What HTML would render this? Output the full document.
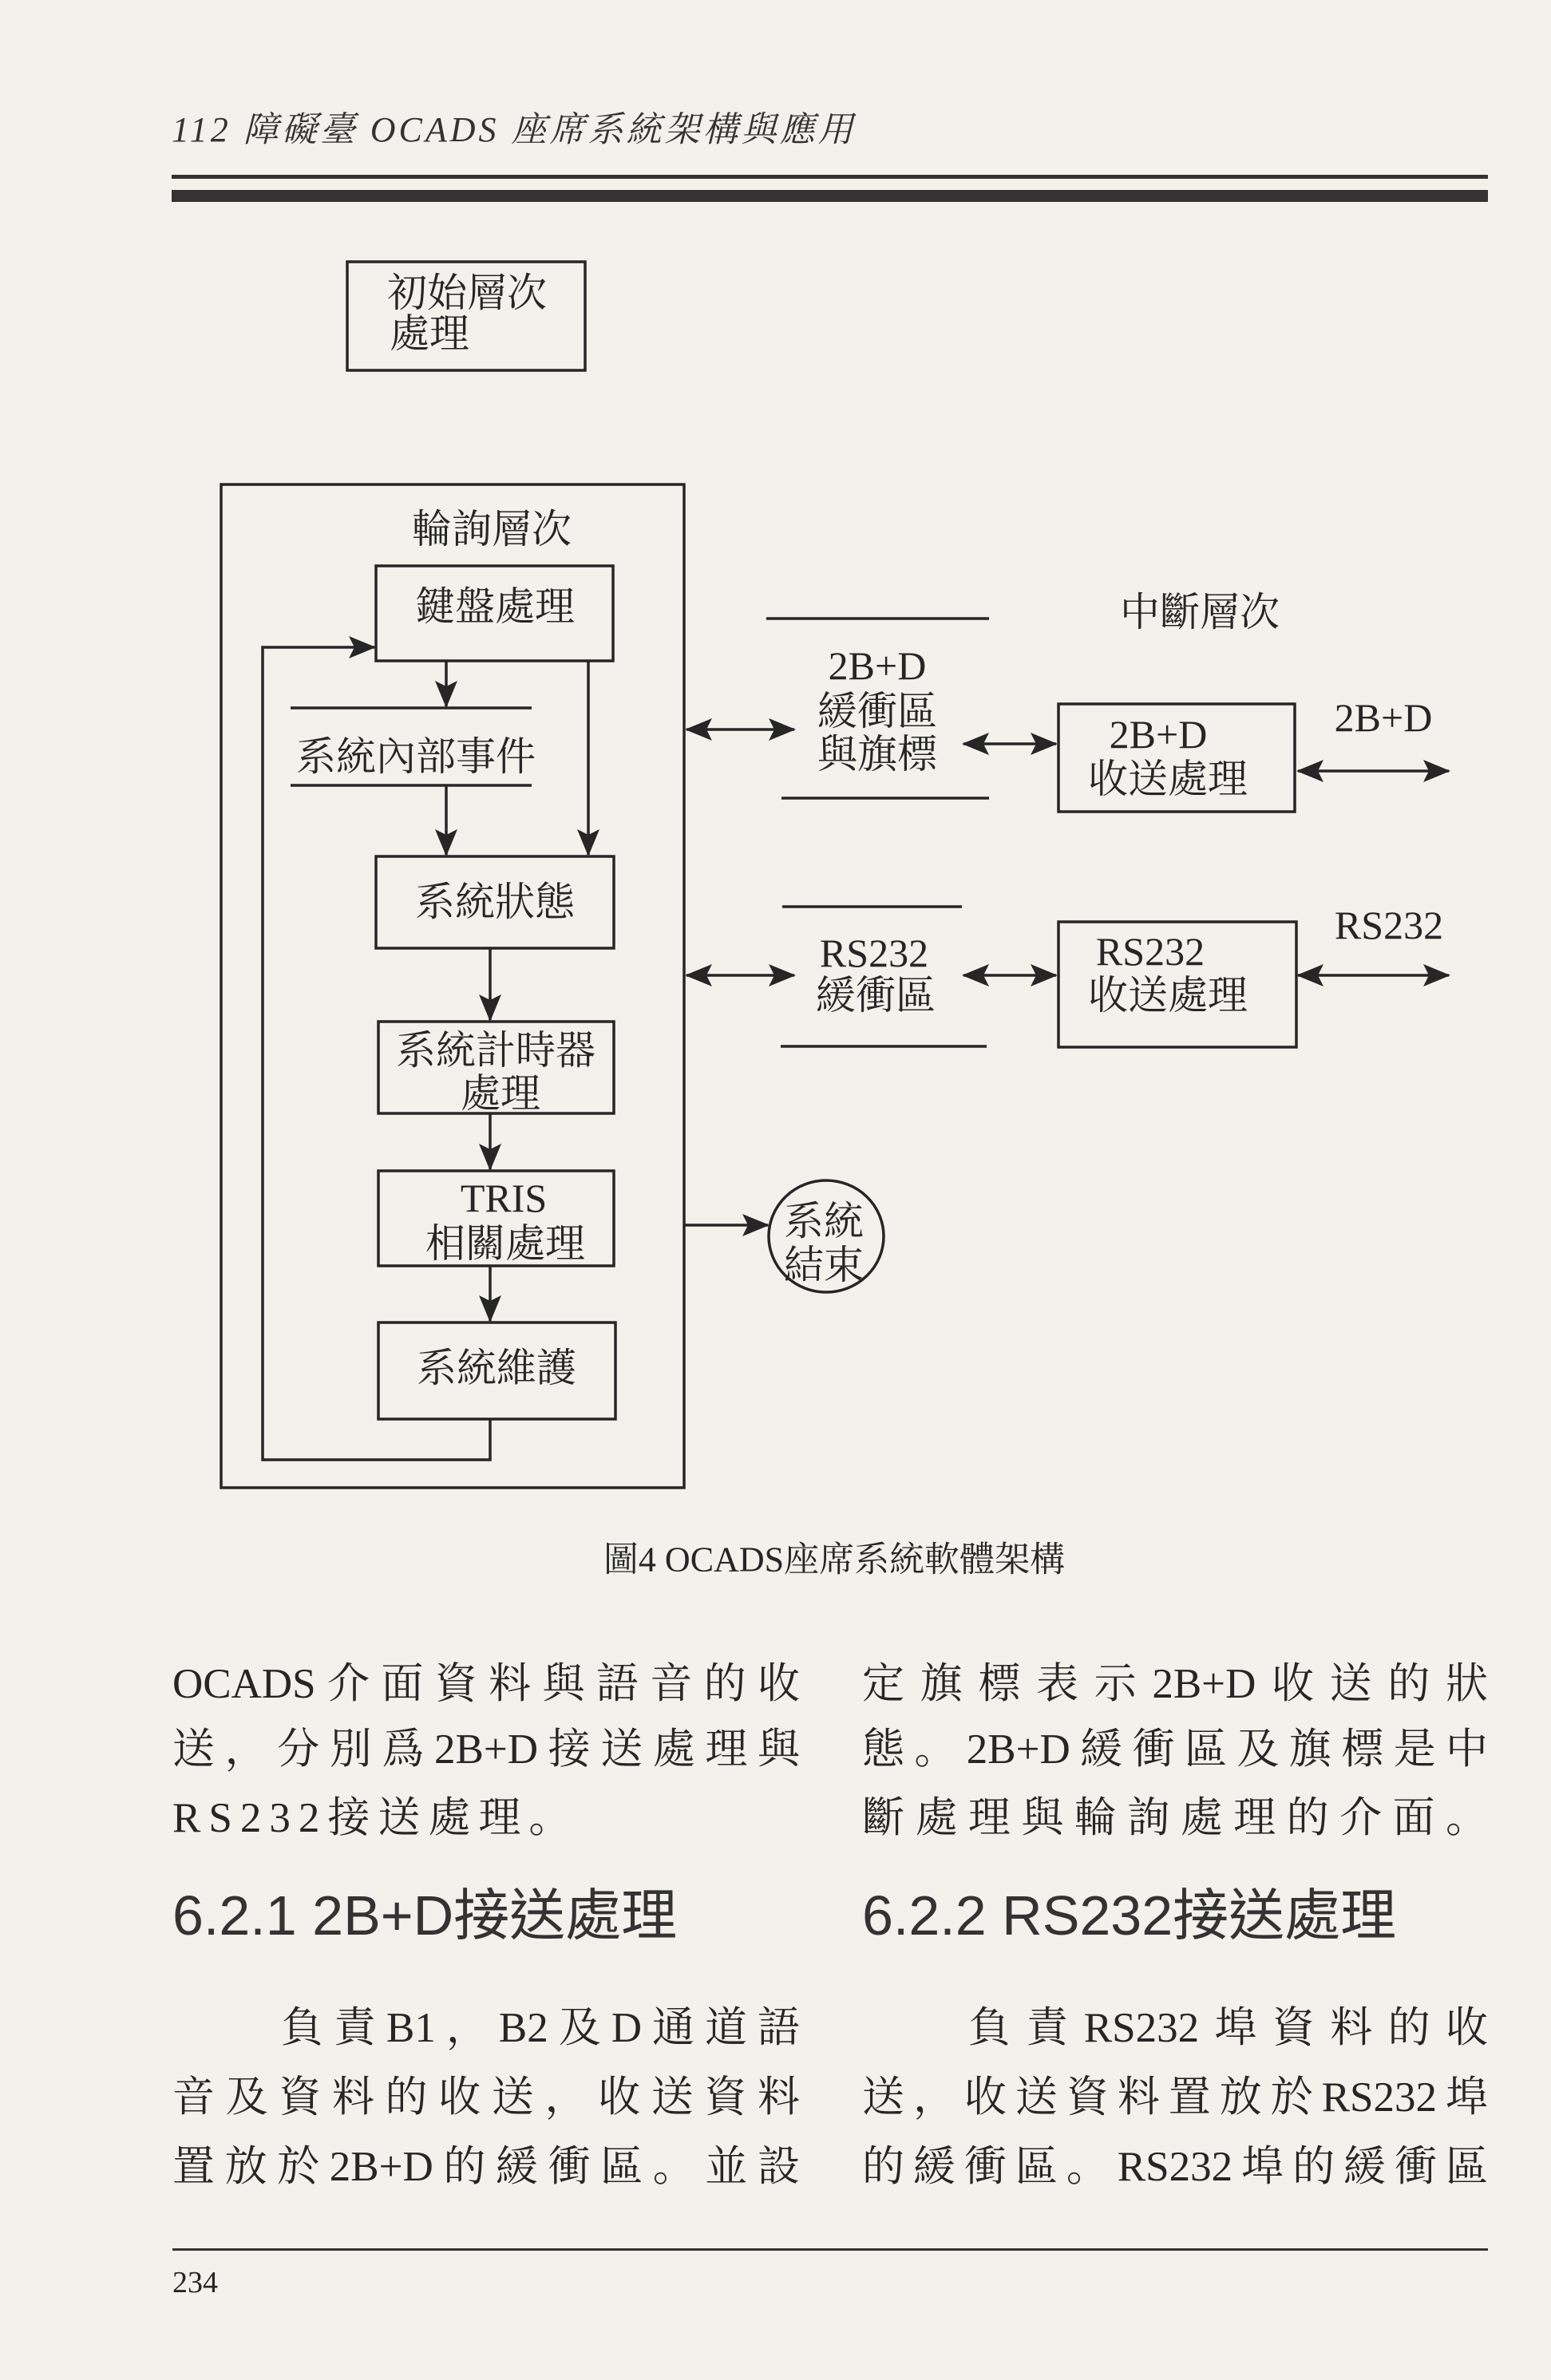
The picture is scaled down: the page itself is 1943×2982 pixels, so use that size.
<!DOCTYPE html>
<html><head><meta charset="utf-8"><style>
html,body{margin:0;padding:0}
body{width:1943px;height:2982px;background:#f2f1ec;position:relative;overflow:hidden;color:#262626;font-family:"Liberation Serif","Noto Serif CJK SC",serif}
.ln{position:absolute;font-size:53px;line-height:60px;height:60px;text-align:justify;text-align-last:justify;white-space:nowrap}
.h{position:absolute;font-family:"Liberation Sans","Noto Sans CJK TC",sans-serif;font-size:70px;line-height:74px;color:#333}
</style></head><body>
<div style="position:absolute;left:215px;top:126px;font-size:44px;font-style:italic;letter-spacing:4px;color:#333">112 障礙臺 OCADS 座席系統架構與應用</div>
<div style="position:absolute;left:215px;top:219px;width:1649px;height:5px;background:#333"></div>
<div style="position:absolute;left:215px;top:238px;width:1649px;height:15px;background:#333"></div>

<svg width="1943" height="2982" style="position:absolute;left:0;top:0" xmlns="http://www.w3.org/2000/svg">
<defs>
<marker id="b" markerWidth="34" markerHeight="30" refX="32" refY="15" orient="auto-start-reverse" markerUnits="userSpaceOnUse">
<path d="M0,1 L34,15 L0,29 L7,15 z" fill="#262626"/></marker>
</defs>
<g fill="none" stroke="#262626" stroke-width="3.5">
<rect x="435" y="328" width="298" height="136"/>
<rect x="277" y="607" width="580" height="1257"/>
<rect x="471" y="709" width="297" height="119"/>
<line x1="364" y1="887" x2="666" y2="887"/>
<line x1="364" y1="984" x2="666" y2="984"/>
<rect x="471" y="1073" width="298" height="115"/>
<rect x="474" y="1280" width="295" height="115"/>
<rect x="474" y="1467" width="295" height="119"/>
<rect x="474" y="1657" width="297" height="121"/>
<polyline points="614,1778 614,1829 329,1829 329,811 469,811" marker-end="url(#b)"/>
<line x1="559" y1="828" x2="559" y2="885" marker-end="url(#b)"/>
<line x1="559" y1="984" x2="559" y2="1071" marker-end="url(#b)"/>
<line x1="737" y1="828" x2="737" y2="1071" marker-end="url(#b)"/>
<line x1="614" y1="1188" x2="614" y2="1278" marker-end="url(#b)"/>
<line x1="614" y1="1395" x2="614" y2="1465" marker-end="url(#b)"/>
<line x1="614" y1="1586" x2="614" y2="1655" marker-end="url(#b)"/>
<line x1="857" y1="1535" x2="962" y2="1535" marker-end="url(#b)"/>
<ellipse cx="1035" cy="1549" rx="72" ry="70"/>
<line x1="960" y1="775" x2="1239" y2="775"/>
<line x1="979" y1="1000" x2="1239" y2="1000"/>
<line x1="980" y1="1136" x2="1205" y2="1136"/>
<line x1="978" y1="1311" x2="1236" y2="1311"/>
<rect x="1326" y="882" width="296" height="135"/>
<rect x="1326" y="1155" width="298" height="157"/>
<line x1="860" y1="914" x2="995" y2="914" marker-start="url(#b)" marker-end="url(#b)"/>
<line x1="1207" y1="932" x2="1323" y2="932" marker-start="url(#b)" marker-end="url(#b)"/>
<line x1="1626" y1="966" x2="1815" y2="966" marker-start="url(#b)" marker-end="url(#b)"/>
<line x1="860" y1="1222" x2="995" y2="1222" marker-start="url(#b)" marker-end="url(#b)"/>
<line x1="1207" y1="1222" x2="1323" y2="1222" marker-start="url(#b)" marker-end="url(#b)"/>
<line x1="1626" y1="1222" x2="1815" y2="1222" marker-start="url(#b)" marker-end="url(#b)"/>
</g>
<g fill="#262626" font-family="Liberation Serif, Noto Serif CJK SC, serif" font-size="50" text-anchor="middle" dominant-baseline="central">
<text x="585" y="367">初始層次</text>
<text x="538" y="418">處理</text>
<text x="616" y="663">輪詢層次</text>
<text x="620" y="760">鍵盤處理</text>
<text x="521" y="948">系統內部事件</text>
<text x="620" y="1130">系統狀態</text>
<text x="621" y="1316">系統計時器</text>
<text x="627" y="1370">處理</text>
<text x="631" y="1501">TRIS</text>
<text x="633" y="1558">相關處理</text>
<text x="622" y="1714">系統維護</text>
<text x="1032" y="1530">系統</text>
<text x="1032" y="1585">結束</text>
<text x="1503" y="767">中斷層次</text>
<text x="1099" y="834">2B+D</text>
<text x="1099" y="891">緩衝區</text>
<text x="1099" y="945">與旗標</text>
<text x="1451" y="920">2B+D</text>
<text x="1463" y="976">收送處理</text>
<text x="1733" y="899">2B+D</text>
<text x="1095" y="1194">RS232</text>
<text x="1097" y="1247">緩衝區</text>
<text x="1441" y="1192">RS232</text>
<text x="1463" y="1247">收送處理</text>
<text x="1740" y="1159">RS232</text>
<text x="1045" y="1954" font-size="44">圖4  OCADS座席系統軟體架構</text>
</g>
</svg>

<div class="ln" style="left:216px;top:2080px;width:786px">OCADS介面資料與語音的收</div>
<div class="ln" style="left:216px;top:2162px;width:786px">送，分別爲2B+D接送處理與</div>
<div class="ln" style="left:216px;top:2248px;width:786px;text-align-last:left;letter-spacing:10px">RS232接送處理。</div>
<div class="ln" style="left:1080px;top:2080px;width:784px">定旗標表示2B+D收送的狀</div>
<div class="ln" style="left:1080px;top:2162px;width:784px">態。2B+D緩衝區及旗標是中</div>
<div class="ln" style="left:1080px;top:2248px;width:784px">斷處理與輪詢處理的介面。</div>

<div class="h" style="left:216px;top:2363px">6.2.1 2B+D接送處理</div>
<div class="h" style="left:1080px;top:2363px">6.2.2 RS232接送處理</div>

<div class="ln" style="left:352px;top:2511px;width:650px">負責B1，B2及D通道語</div>
<div class="ln" style="left:216px;top:2598px;width:786px">音及資料的收送，收送資料</div>
<div class="ln" style="left:216px;top:2685px;width:786px">置放於2B+D的緩衝區。並設</div>
<div class="ln" style="left:1213px;top:2511px;width:651px">負責RS232埠資料的收</div>
<div class="ln" style="left:1080px;top:2598px;width:784px">送，收送資料置放於RS232埠</div>
<div class="ln" style="left:1080px;top:2685px;width:784px">的緩衝區。RS232埠的緩衝區</div>

<div style="position:absolute;left:216px;top:2817px;width:1648px;height:3px;background:#333"></div>
<div style="position:absolute;left:216px;top:2838px;font-size:38px">234</div>
</body></html>
